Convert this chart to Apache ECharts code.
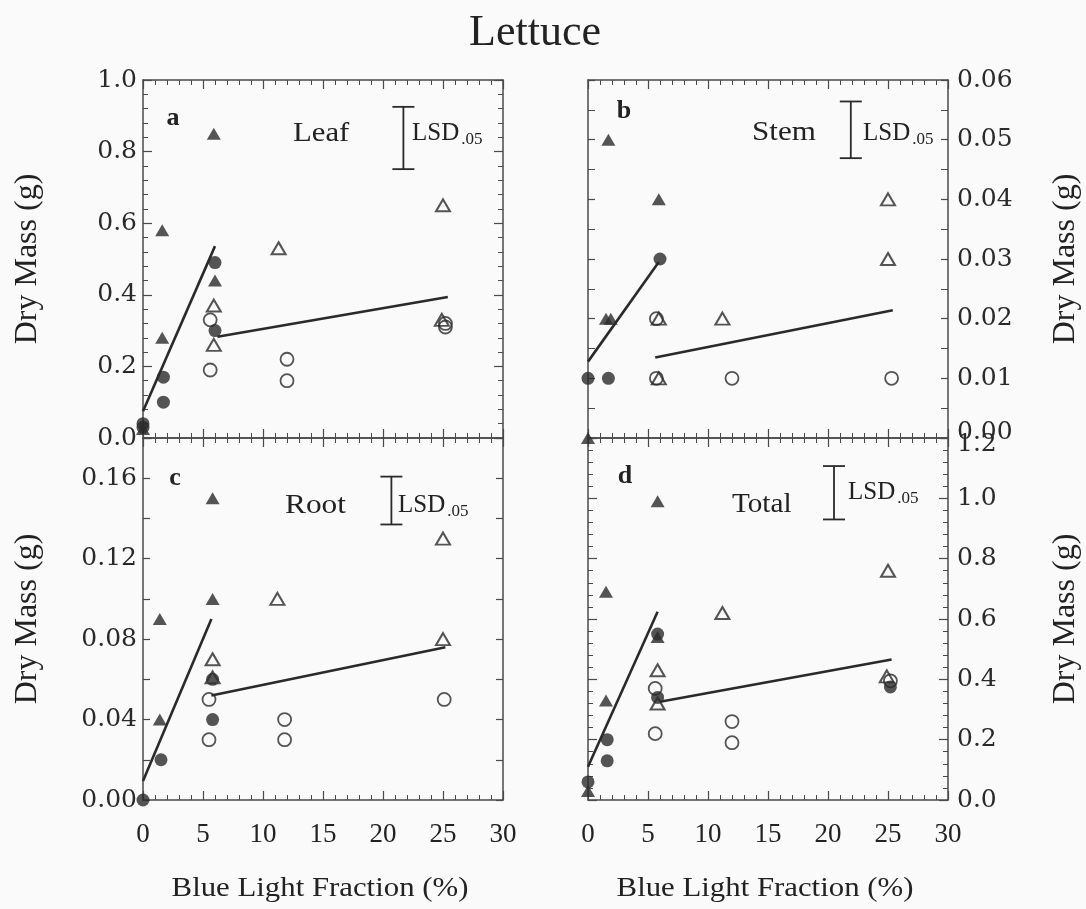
<!DOCTYPE html>
<html>
<head>
<meta charset="utf-8">
<script src="https://cdn.jsdelivr.net/npm/echarts@6/dist/echarts.min.js"></script>
<style>
  html, body { margin: 0; padding: 0; background: #fafafa; }
  #chart { width: 1086px; height: 909px; }
</style>
</head>
<body>
<div id="chart"></div>
<script>
// Blue light fraction (%) on x, dry mass (g) on y.
// Filled symbols / open symbols, triangles / circles are the four plant groups.

// --- Leaf ---
const leafFilledTri  = [[0, 0.025], [1.6, 0.58], [1.6, 0.28], [5.9, 0.85], [6.0, 0.44]];
const leafFilledCirc = [[0, 0.04], [0, 0.03], [1.7, 0.17], [1.7, 0.10], [6.0, 0.49], [6.0, 0.30]];
const leafOpenTri    = [[5.9, 0.37], [5.9, 0.26], [11.3, 0.53], [25.0, 0.65], [24.9, 0.33]];
const leafOpenCirc   = [[5.6, 0.33], [5.6, 0.19], [12.0, 0.22], [12.0, 0.16], [25.2, 0.32], [25.2, 0.31]];
const leafFitLow     = [[0, 0.075], [6.0, 0.536]];
const leafFitHigh    = [[6.2, 0.283], [25.4, 0.394]];
const leafLsd        = [[21.7, 0.751, 0.925]];

// --- Stem ---
const stemFilledTri  = [[1.7, 0.050], [5.9, 0.040], [1.5, 0.020], [1.9, 0.020], [0, 0.0]];
const stemFilledCirc = [[0, 0.010], [1.7, 0.010], [6.0, 0.030]];
const stemOpenTri    = [[5.9, 0.020], [5.9, 0.010], [11.2, 0.020], [25.0, 0.040], [25.0, 0.030]];
const stemOpenCirc   = [[5.7, 0.020], [5.7, 0.010], [12.0, 0.010], [25.3, 0.010]];
const stemFitLow     = [[0, 0.0128], [5.9, 0.0295]];
const stemFitHigh    = [[5.6, 0.0135], [25.4, 0.0214]];
const stemLsd        = [[21.9, 0.0469, 0.0564]];

// --- Root ---
const rootFilledTri  = [[5.8, 0.150], [5.8, 0.100], [1.4, 0.090], [1.4, 0.040]];
const rootFilledCirc = [[5.8, 0.060], [5.8, 0.040], [1.5, 0.020], [0, 0.0]];
const rootOpenTri    = [[11.2, 0.100], [5.8, 0.070], [5.8, 0.061], [25.0, 0.130], [25.0, 0.080]];
const rootOpenCirc   = [[5.5, 0.050], [5.5, 0.030], [11.8, 0.040], [11.8, 0.030], [25.1, 0.050]];
const rootFitLow     = [[0, 0.0095], [5.7, 0.090]];
const rootFitHigh    = [[5.7, 0.052], [25.2, 0.076]];
const rootLsd        = [[20.7, 0.137, 0.1608]];

// --- Total ---
const totalFilledTri  = [[5.8, 0.99], [1.5, 0.69], [5.8, 0.54], [1.5, 0.33], [0, 0.03]];
const totalFilledCirc = [[5.8, 0.55], [5.8, 0.34], [1.6, 0.20], [1.6, 0.13], [0, 0.06], [25.2, 0.375]];
const totalOpenTri    = [[11.2, 0.62], [5.8, 0.43], [5.8, 0.32], [25.0, 0.76], [24.9, 0.41]];
const totalOpenCirc   = [[5.6, 0.37], [5.6, 0.22], [12.0, 0.26], [12.0, 0.19], [25.2, 0.395]];
const totalFitLow     = [[0, 0.11], [5.8, 0.624]];
const totalFitHigh    = [[6.0, 0.326], [25.3, 0.466]];
const totalLsd        = [[20.5, 0.93, 1.107]];

// Axis ranges and tick steps
const xRange = [0, 30];
const xStep = 5;
const yRanges = [[0, 1.0], [0, 0.06], [0, 0.18], [0, 1.2]];
const ySteps  = [0.2, 0.01, 0.02, 0.2];

const panels = [
  { letter: 'a', name: 'Leaf',  fTri: leafFilledTri,  fCirc: leafFilledCirc,  oTri: leafOpenTri,  oCirc: leafOpenCirc,  low: leafFitLow,  high: leafFitHigh,  lsd: leafLsd },
  { letter: 'b', name: 'Stem',  fTri: stemFilledTri,  fCirc: stemFilledCirc,  oTri: stemOpenTri,  oCirc: stemOpenCirc,  low: stemFitLow,  high: stemFitHigh,  lsd: stemLsd },
  { letter: 'c', name: 'Root',  fTri: rootFilledTri,  fCirc: rootFilledCirc,  oTri: rootOpenTri,  oCirc: rootOpenCirc,  low: rootFitLow,  high: rootFitHigh,  lsd: rootLsd },
  { letter: 'd', name: 'Total', fTri: totalFilledTri, fCirc: totalFilledCirc, oTri: totalOpenTri, oCirc: totalOpenCirc, low: totalFitLow, high: totalFitHigh, lsd: totalLsd }
];

const INK = '#2a2a2a';
const AXIS = '#4a4a4a';
const SERIF = '"Liberation Serif", "Times New Roman", serif';
const TICKFONT = '"DejaVu Serif", serif';

const grids = [
  { left: 143, top: 80,  width: 360, height: 358 },
  { left: 588, top: 80,  width: 360, height: 358 },
  { left: 143, top: 438, width: 360, height: 362 },
  { left: 588, top: 438, width: 360, height: 362 }
];

const yFormat = [
  v => v.toFixed(1),
  v => (v === 0 ? '{z|0.00}' : v.toFixed(2)),
  v => (Math.round(v * 100) % 4 === 0 && v < 0.17 ? v.toFixed(2) : ''),
  v => (Math.abs(v - 1.2) < 1e-6 ? '{t|1.2}' : v.toFixed(1))
];
const yMinorSplit = [5, 2, 0, 5];
const yLabelSide = ['left', 'right', 'left', 'right'];

const lineStyleAxis = { color: AXIS, width: 1.5 };
const xAxes = [], yAxes = [];
grids.forEach((g, i) => {
  ['bottom', 'top'].forEach(pos => {
    xAxes.push({
      type: 'value', gridIndex: i, position: pos, min: xRange[0], max: xRange[1], interval: xStep,
      axisLine: { show: true, onZero: false, lineStyle: lineStyleAxis },
      axisTick: { show: true, inside: true, length: 9, lineStyle: { color: AXIS, width: 1.2 } },
      minorTick: { show: true, splitNumber: 5, length: 5, lineStyle: { color: AXIS, width: 1 } },
      splitLine: { show: false },
      axisLabel: {
        show: pos === 'bottom' && i >= 2, margin: 21,
        fontFamily: SERIF, fontSize: 27, color: '#222'
      }
    });
  });
  ['left', 'right'].forEach(pos => {
    const minor = yMinorSplit[i];
    yAxes.push({
      type: 'value', gridIndex: i, position: pos, min: yRanges[i][0], max: yRanges[i][1], interval: ySteps[i],
      axisLine: { show: true, onZero: false, lineStyle: lineStyleAxis },
      axisTick: { show: true, inside: true, length: minor === 5 ? 9 : 7, lineStyle: { color: AXIS, width: 1.2 } },
      minorTick: { show: minor > 0, splitNumber: minor || 1, length: minor === 5 ? 5 : 7, lineStyle: { color: AXIS, width: 1 } },
      splitLine: { show: false },
      axisLabel: {
        show: pos === yLabelSide[i], margin: pos === 'left' ? 6 : 9,
        fontFamily: TICKFONT, fontSize: 25, color: '#2a2a2a',
        formatter: yFormat[i],
        rich: {
          z: { fontFamily: TICKFONT, fontSize: 25, color: '#2a2a2a', padding: [0, 0, 12, 0] },
          t: { fontFamily: TICKFONT, fontSize: 25, color: '#2a2a2a', padding: [12, 0, 0, 0] }
        }
      }
    });
  });
});

function lsdRender(params, api) {
  const top = api.coord([api.value(0), api.value(2)]);
  const bot = api.coord([api.value(0), api.value(1)]);
  const w = 11;
  const st = { stroke: INK, lineWidth: 1.8 };
  return {
    type: 'group',
    children: [
      { type: 'line', shape: { x1: top[0], y1: top[1], x2: bot[0], y2: bot[1] }, style: st },
      { type: 'line', shape: { x1: top[0] - w, y1: top[1], x2: top[0] + w, y2: top[1] }, style: st },
      { type: 'line', shape: { x1: bot[0] - w, y1: bot[1], x2: bot[0] + w, y2: bot[1] }, style: st }
    ]
  };
}

const series = [];
panels.forEach((p, i) => {
  const axes = { xAxisIndex: 2 * i, yAxisIndex: 2 * i };
  [p.low, p.high].forEach(d => series.push(Object.assign({
    type: 'line', data: d, showSymbol: false, silent: true,
    lineStyle: { color: INK, width: 2.6 }, z: 3
  }, axes)));
  series.push(Object.assign({ type: 'scatter', data: p.fTri, symbol: 'triangle', symbolSize: [14, 12],
    itemStyle: { color: INK }, z: 4 }, axes));
  series.push(Object.assign({ type: 'scatter', data: p.fCirc, symbol: 'circle', symbolSize: 13,
    itemStyle: { color: INK }, z: 4 }, axes));
  series.push(Object.assign({ type: 'scatter', data: p.oTri, symbol: 'triangle', symbolSize: [14, 12],
    itemStyle: { color: 'rgba(0,0,0,0)', borderColor: INK, borderWidth: 2 }, z: 5 }, axes));
  series.push(Object.assign({ type: 'scatter', data: p.oCirc, symbol: 'circle', symbolSize: 13,
    itemStyle: { color: 'rgba(0,0,0,0)', borderColor: INK, borderWidth: 1.8 }, z: 5 }, axes));
  series.push(Object.assign({ type: 'custom', data: p.lsd, renderItem: lsdRender, z: 3 }, axes));
});

// Panel texts: letter centre, name left edge, LSD label left edge (pixels)
const panelText = [
  { letter: [173, 118], name: [293, 134], nameScale: 1.14, lsd: [412, 133] },
  { letter: [624, 111], name: [752, 133], nameScale: 1.15, lsd: [863, 133] },
  { letter: [175, 478], name: [285, 506], nameScale: 1.16, lsd: [398, 505] },
  { letter: [625, 476], name: [732, 505], nameScale: 1.08, lsd: [848, 492] }
];
const graphic = [
  { type: 'text', x: 535, y: 33, style: { text: 'Lettuce', font: '44px ' + SERIF, fill: '#222', textAlign: 'center', textVerticalAlign: 'middle' } }
];
panels.forEach((p, i) => {
  const t = panelText[i];
  graphic.push({ type: 'text', x: t.letter[0], y: t.letter[1],
    style: { text: p.letter, font: 'bold 26px ' + SERIF, fill: '#222', textAlign: 'center', textVerticalAlign: 'middle' } });
  graphic.push({ type: 'text', x: t.name[0], y: t.name[1], scaleX: t.nameScale,
    style: { text: p.name, font: '27px ' + SERIF, fill: '#222', textAlign: 'left', textVerticalAlign: 'middle' } });
  graphic.push({ type: 'text', x: t.lsd[0], y: t.lsd[1],
    style: {
      text: '{m|LSD}{s|.05}', textAlign: 'left', textVerticalAlign: 'middle',
      rich: {
        m: { fontFamily: SERIF, fontSize: 25, fill: '#222', color: '#222' },
        s: { fontFamily: SERIF, fontSize: 17, fill: '#222', color: '#222', padding: [14, 0, 0, 2] }
      }
    } });
});
// Axis titles
[[28, 259], [28, 619], [1066, 259], [1066, 619]].forEach(pt => {
  graphic.push({ type: 'text', x: pt[0], y: pt[1], rotation: Math.PI / 2,
    style: { text: 'Dry Mass (g)', font: '32px ' + SERIF, fill: '#222', textAlign: 'center', textVerticalAlign: 'middle' } });
});
[[320, 889], [765, 889]].forEach(pt => {
  graphic.push({ type: 'text', x: pt[0], y: pt[1], scaleX: 1.1,
    style: { text: 'Blue Light Fraction (%)', font: '28px ' + SERIF, fill: '#222', textAlign: 'center', textVerticalAlign: 'middle' } });
});

const chart = echarts.init(document.getElementById('chart'), null, { renderer: 'canvas' });
chart.setOption({
  backgroundColor: '#fafafa',
  animation: false,
  grid: grids,
  xAxis: xAxes,
  yAxis: yAxes,
  series: series,
  graphic: graphic
});
</script>
</body>
</html>
